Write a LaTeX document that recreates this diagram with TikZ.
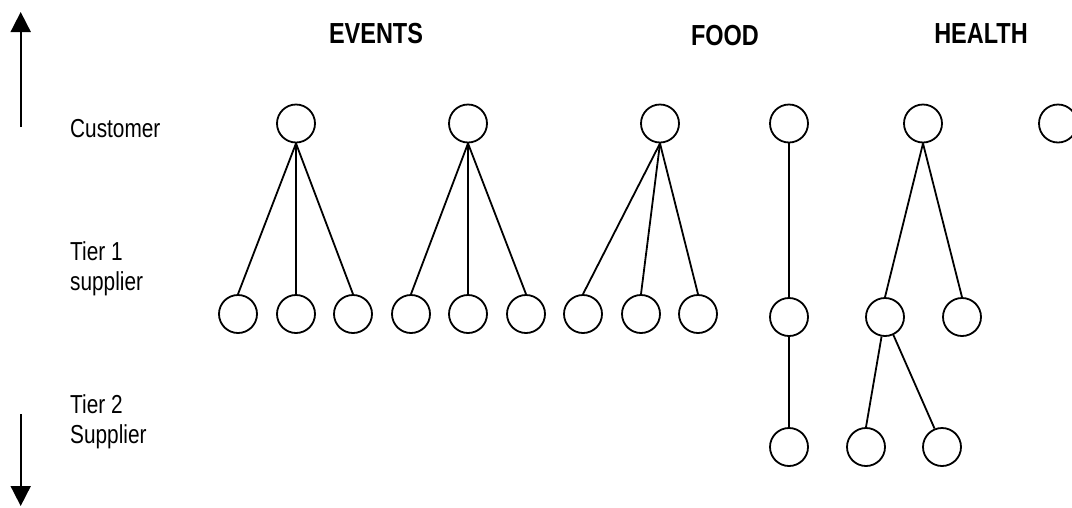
\documentclass[tikz,border=0pt]{standalone}
\usepackage{fontspec}
\usepackage{graphicx}
\setmainfont{Liberation Sans}
\usetikzlibrary{arrows.meta}
\newcommand\sxn[1]{\scalebox{0.8}[1]{#1}}
\newcommand\sxb[1]{\scalebox{0.81}[1]{#1}}
\tikzset{
  nd/.style={circle, draw, line width=1.8pt, minimum size=38pt, inner sep=0pt},
  link/.style={line width=1.8pt},
  lbl/.style={inner sep=0pt, anchor=base west, align=left, font=\fontsize{26}{30}\selectfont},
  ttl/.style={inner sep=0pt, anchor=base, font=\fontsize{29}{34}\selectfont\bfseries},
  axis/.style={line width=1.8pt, -{Triangle[width=20pt,length=20pt]}}
}
\begin{document}
\begin{tikzpicture}[x=1pt,y=-1pt]
\useasboundingbox (0,0) rectangle (1072,507);
% titles
\node[ttl] (tev) at (376,43) {\sxb{EVENTS}};
\node[ttl] (tfo) at (725,45) {\sxb{FOOD}};
\node[ttl] (the) at (981,43) {\sxb{HEALTH}};
% labels
\node[lbl] (lcu) at (70,137) {\sxn{Customer}};
\node[lbl] (lt1) at (70,290) {\sxn{Tier 1}\\\sxn{supplier}};
\node[lbl] (lt2) at (70,443) {\sxn{Tier 2}\\\sxn{Supplier}};
% axis arrows
\coordinate (ua) at (20.7,127);
\coordinate (ub) at (20.7,12);
\coordinate (da) at (20.7,414);
\coordinate (db) at (20.7,506);
\draw[axis] (ua) -- (ub);
\draw[axis] (da) -- (db);
% customers
\node[nd] (c1) at (296,123.5) {};
\node[nd] (c2) at (468,123.5) {};
\node[nd] (c3) at (660,123.5) {};
\node[nd] (c4) at (789,123.5) {};
\node[nd] (c5) at (923,123.5) {};
\node[nd] (c6) at (1058,123.5) {};
% tier 1
\node[nd] (a1) at (238,314) {};
\node[nd] (a2) at (296,314) {};
\node[nd] (a3) at (353,314) {};
\node[nd] (b1) at (411,314) {};
\node[nd] (b2) at (468,314) {};
\node[nd] (b3) at (526,314) {};
\node[nd] (f1) at (583,314) {};
\node[nd] (f2) at (641,314) {};
\node[nd] (f3) at (698,314) {};
\node[nd] (g1) at (789,317) {};
\node[nd] (h1) at (885,317) {};
\node[nd] (h2) at (962,317) {};
% tier 2
\node[nd] (g2) at (789,447) {};
\node[nd] (k1) at (866,447) {};
\node[nd] (k2) at (942,447) {};
% links
\foreach \p/\c in {c1/a1,c1/a2,c1/a3,c2/b1,c2/b2,c2/b3,c3/f1,c3/f2,c3/f3,c4/g1,g1/g2,c5/h1,c5/h2}
  \draw[link] (\p.south) -- (\c.north);
\draw[link] (h1.-100) -- (k1.north);
\draw[link] (h1.-65) -- (k2.112);
\end{tikzpicture}
\end{document}
